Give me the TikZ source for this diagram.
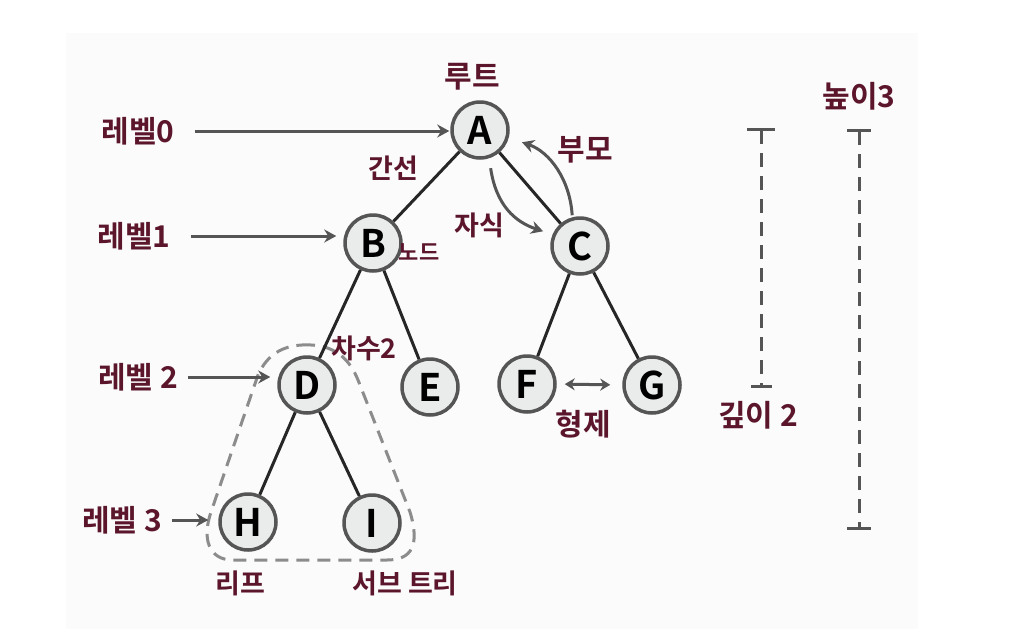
\documentclass[tikz,border=0pt]{standalone}
\usepackage{fontspec}
\setmainfont{Noto Sans CJK KR}[BoldFont={Noto Sans CJK KR Bold}]
\usetikzlibrary{arrows.meta}
\definecolor{lblred}{RGB}{92,22,44}
\definecolor{rimgray}{RGB}{85,85,85}
\definecolor{fillgray}{RGB}{234,235,235}
\definecolor{bggray}{RGB}{251,251,251}
\definecolor{blobgray}{RGB}{140,140,140}

\begin{document}
\begin{tikzpicture}[x=1pt, y=-1pt,
    vertex/.style={circle, draw=rimgray, fill=fillgray, line width=3.5pt,
      minimum size=56pt, inner sep=0pt, font=\fontsize{38}{38}\selectfont\bfseries},
    edge/.style={line width=3pt, black!85},
    lbl/.style={text=lblred, inner sep=0pt, font=\fontsize{30}{30}\selectfont\bfseries},
    pointer/.style={line width=3pt, rimgray, -{Stealth[length=12pt,width=13pt]}},
    guide/.style={line width=3pt, rimgray, dash pattern=on 14pt off 9pt}]

    % canvas
    \useasboundingbox (0,0) rectangle (1024,640);
    \fill[white] (0,0) rectangle (1024,640);
    \fill[bggray] (66,33) rectangle (918,629);

    % subtree outline
    \draw[blobgray, line width=3pt, dash pattern=on 13pt off 8pt]
      (302,345) .. controls (335,343) and (350,360) .. (358,380) -- (410,512)
      .. controls (420,545) and (412,560) .. (387,560) -- (233,560)
      .. controls (208,560) and (202,538) .. (211,512) -- (258,375)
      .. controls (267,355) and (282,346) .. (302,345) -- cycle;

    % tree
    \foreach \n/\x/\y in {A/480/130, B/373/243, C/580/246, D/307/385, E/430/387,
                          F/527/384, G/652/385, H/248/522, I/372/523}
      \node[vertex] (\n) at (\x,\y) {\n};

    \foreach \a/\b in {A/B, A/C, B/D, B/E, C/F, C/G, D/H, D/I}
      \draw[edge] (\a) -- (\b);

    % levels
    \node[lbl] (lv0) at (138,131) {레벨0};
    \node[lbl] (lv1) at (134,236) {레벨1};
    \node[lbl] (lv2) at (138,377) {레벨 2};
    \node[lbl] (lv3) at (122,520) {레벨 3};

    \draw[pointer, shorten <=20pt, shorten >=1pt] (lv0.east) -- (lv0.east -| A.west);
    \draw[pointer, shorten <=20pt, shorten >=7pt] (lv1.east) -- (lv1.east -| B.west);
    \draw[pointer, shorten <=10pt, shorten >=7pt] (lv2.east) -- (lv2.east -| D.west);
    \draw[pointer, shorten <=10pt, shorten >=10pt] (lv3.east) -- (lv3.east -| H.west);

    % terms
    \node[lbl] (root) at (472,77) {루트};
    \node[lbl, font=\fontsize{27}{27}\selectfont\bfseries] (edgelbl) at (393,168) {간선};
    \node[lbl, font=\fontsize{22}{22}\selectfont\bfseries] (nodelbl) at (419,252) {노드};
    \node[lbl, font=\fontsize{27}{27}\selectfont\bfseries] (child) at (479,225) {자식};
    \node[lbl] (parent) at (585,150) {부모};
    \node[lbl, font=\fontsize{27}{27}\selectfont\bfseries] (degree) at (364,348) {차수2};
    \node[lbl] (sibling) at (583,424) {형제};
    \node[lbl, font=\fontsize{27}{27}\selectfont\bfseries] (leaf) at (240,583) {리프};
    \node[lbl, font=\fontsize{27}{27}\selectfont\bfseries] (subtree) at (405,583) {서브 트리};

    \draw[pointer, shorten <=10pt, shorten >=10pt]
      (A.-72) .. controls (496,205) and (515,222) .. (C.157);
    \draw[pointer, shorten <=2pt, shorten >=14pt]
      (C.105) .. controls (570,180) and (550,152) .. (A.-15);
    \draw[line width=3pt, rimgray, {Stealth[length=10pt,width=12pt]}-{Stealth[length=10pt,width=12pt]},
      shorten <=8pt, shorten >=12pt] (F.east) -- (G.west);

    % depth and height
    \coordinate (dtop) at (761,128);
    \coordinate (dbot) at (761,388);
    \coordinate (htop) at (859,129);
    \coordinate (hbot) at (859,530);
    \draw[guide, {Bar[width=28pt]}-{Bar[width=21pt]}] (dtop) -- (dbot);
    \draw[guide, {Bar[width=24pt]}-{Bar[width=24pt]}] (htop) -- (hbot);
    \node[lbl] (depth) at (758,415) {깊이 2};
    \node[lbl] (height) at (859,96) {높이3};
\end{tikzpicture}
\end{document}
